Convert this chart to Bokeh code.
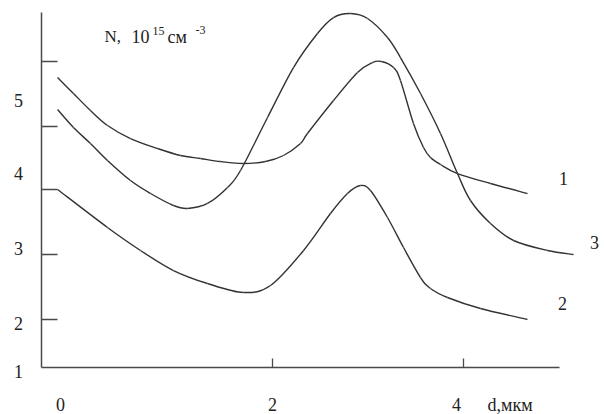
from bokeh.plotting import figure
from bokeh.models import Range1d, FixedTicker, ColumnDataSource
from bokeh.core.properties import value
from bokeh.embed import file_html
from bokeh.resources import INLINE

# ---- data ----
d1 = [-0.251, -0.084, 0.094, 0.272, 0.513, 0.796, 1.037, 1.246, 1.455, 1.696, 1.927, 2.115,
      2.293, 2.366, 2.639, 2.890, 3.047, 3.141, 3.267, 3.340, 3.476, 3.581, 3.654, 3.759,
      3.937, 4.283, 4.670]
n1 = [5.302, 5.087, 4.859, 4.658, 4.483, 4.349, 4.255, 4.215, 4.174, 4.148, 4.174, 4.255,
      4.416, 4.550, 4.993, 5.369, 5.503, 5.517, 5.436, 5.262, 4.685, 4.362, 4.228, 4.134,
      4.013, 3.879, 3.745]

d2 = [-0.251, 0.272, 0.618, 0.963, 1.319, 1.696, 1.979, 2.325, 2.607, 2.785, 2.921, 3.026,
      3.204, 3.372, 3.550, 3.654, 3.832, 4.178, 4.670]
n2 = [3.799, 3.289, 2.980, 2.711, 2.537, 2.416, 2.510, 2.980, 3.477, 3.745, 3.852, 3.785,
      3.423, 3.020, 2.617, 2.470, 2.349, 2.201, 2.054]

d3 = [-0.251, -0.084, 0.094, 0.272, 0.513, 0.723, 0.963, 1.110, 1.319, 1.529, 1.665, 1.948,
      2.220, 2.471, 2.639, 2.817, 2.995, 3.204, 3.340, 3.550, 3.759, 3.937, 4.073, 4.283,
      4.524, 4.880, 5.152]
n3 = [4.872, 4.631, 4.416, 4.188, 3.919, 3.745, 3.584, 3.544, 3.611, 3.826, 4.054, 4.765,
      5.436, 5.893, 6.107, 6.161, 6.094, 5.839, 5.570, 5.087, 4.550, 4.013, 3.651, 3.342,
      3.114, 2.980, 2.926]

curve_names = ["1", "2", "3"]
y_tick_labels = ["5", "4", "3", "2", "1"]
x_tick_labels = ["0", "2", "4"]
x_unit = "d,мкм"
title_parts = ["N,", "10", "15", "см", "-3"]

# ---- layout helpers (picture pixel -> data) ----
W, H = 604, 414
def dx(px):
    return 2 + (px - 272) / 95.5
def ny(py):
    return 2 + (323 - py) / 74.5

p = figure(width=W, height=H, output_backend="svg", toolbar_location=None,
           x_range=Range1d(dx(0), dx(W)), y_range=Range1d(ny(H), ny(0)),
           min_border=0, min_border_left=0, min_border_right=0,
           min_border_top=0, min_border_bottom=0)
p.outline_line_color = None
p.xgrid.visible = False
p.ygrid.visible = False
p.background_fill_color = "white"
p.border_fill_color = "white"

axis_color = "#4a4a4a"
x_ticks = [2, 4]
y_ticks = [ny(61), ny(126), ny(189), ny(254), ny(319)]
for ax in p.xaxis:
    ax.fixed_location = ny(367)
    ax.bounds = (dx(41), dx(559))
    ax.ticker = FixedTicker(ticks=x_ticks)
    ax.major_label_overrides = {t: "" for t in x_ticks}
    ax.major_tick_in = 9
    ax.major_tick_out = 0
    ax.minor_tick_in = 0
    ax.minor_tick_out = 0
    ax.axis_line_color = axis_color
    ax.axis_line_width = 1.5
    ax.major_tick_line_color = axis_color
    ax.major_tick_line_width = 1.3
for ax in p.yaxis:
    ax.fixed_location = dx(41)
    ax.bounds = (ny(367), ny(12))
    ax.ticker = FixedTicker(ticks=y_ticks)
    ax.major_label_overrides = {t: "" for t in y_ticks}
    ax.major_tick_in = 16
    ax.major_tick_out = 0
    ax.minor_tick_in = 0
    ax.minor_tick_out = 0
    ax.axis_line_color = axis_color
    ax.axis_line_width = 1.5
    ax.major_tick_line_color = axis_color
    ax.major_tick_line_width = 1.3


def smooth_segments(xs, ys):
    """Catmull-Rom through the read points, drawn as cubic Bezier pieces."""
    n = len(xs)
    cols = {k: [] for k in ("x0", "y0", "x1", "y1", "cx0", "cy0", "cx1", "cy1")}
    for i in range(n - 1):
        i0, i3 = max(i - 1, 0), min(i + 2, n - 1)
        cols["x0"].append(xs[i]); cols["y0"].append(ys[i])
        cols["x1"].append(xs[i + 1]); cols["y1"].append(ys[i + 1])
        cols["cx0"].append(xs[i] + (xs[i + 1] - xs[i0]) / 6)
        cols["cy0"].append(ys[i] + (ys[i + 1] - ys[i0]) / 6)
        cols["cx1"].append(xs[i + 1] - (xs[i3] - xs[i]) / 6)
        cols["cy1"].append(ys[i + 1] - (ys[i3] - ys[i]) / 6)
    return ColumnDataSource(cols)


line_color = "#333333"
for xs, ys in [(d1, n1), (d2, n2), (d3, n3)]:
    p.bezier(x0="x0", y0="y0", x1="x1", y1="y1", cx0="cx0", cy0="cy0",
             cx1="cx1", cy1="cy1", source=smooth_segments(xs, ys),
             line_color=line_color, line_width=1.4)

serif = value("Liberation Serif")
txt = dict(text_font=serif, text_color="#222222", text_align="center",
           text_baseline="middle", text_font_size="18px")

# y tick labels
p.text(x=[dx(18)] * 5, y=[ny(100), ny(173), ny(248), ny(323), ny(371)],
       text=y_tick_labels, **txt)
# x tick labels
p.text(x=[dx(60), dx(272), dx(456)], y=[ny(404)] * 3, text=x_tick_labels, **txt)
p.text(x=[dx(487)], y=[ny(404)], text=[x_unit], text_font=serif, text_color="#222222",
       text_align="left", text_baseline="middle", text_font_size="18px")
# curve labels
p.text(x=[dx(563), dx(562), dx(594)], y=[ny(178), ny(303), ny(242)],
       text=curve_names, **txt)

# axis title N, 10^15 см^-3
lab = dict(text_font=serif, text_color="#222222", text_align="left",
           text_baseline="alphabetic")
p.text(x=[dx(104)], y=[ny(36)], text=[title_parts[0]], text_font_size="17px", **lab)
p.text(x=[dx(131)], y=[ny(36)], text=[title_parts[1]], text_font_size="18px", **lab)
p.text(x=[dx(152)], y=[ny(30)], text=[title_parts[2]], text_font_size="12px", **lab)
p.text(x=[dx(167)], y=[ny(36)], text=[title_parts[3]], text_font_size="18px", **lab)
p.text(x=[dx(195)], y=[ny(29)], text=[title_parts[4]], text_font_size="12px", **lab)

open("out.html", "w").write(file_html(p, INLINE))
